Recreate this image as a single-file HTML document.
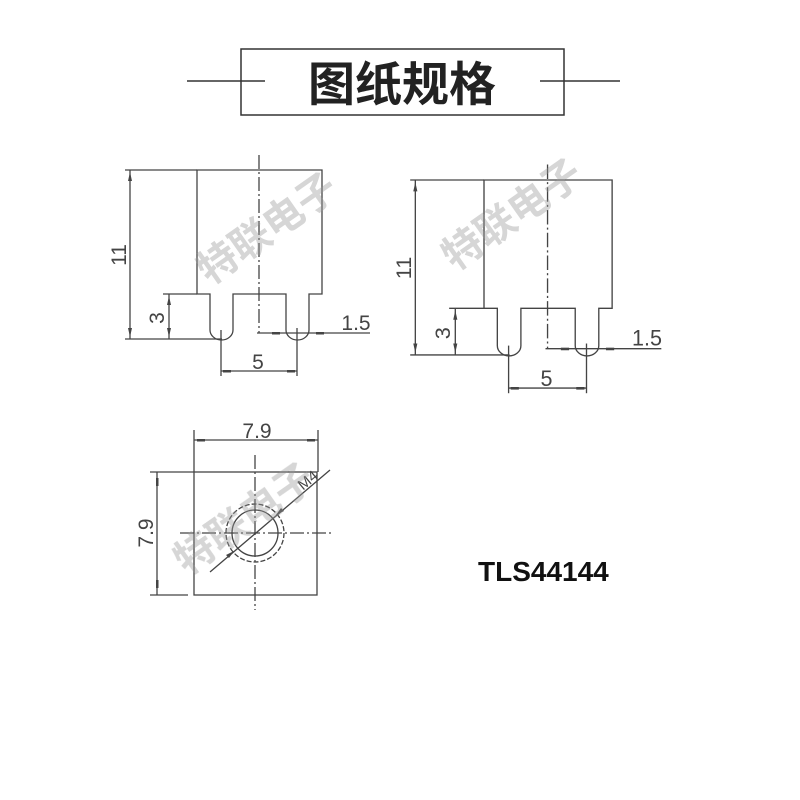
<!DOCTYPE html>
<html><head><meta charset="utf-8"><style>
html,body{margin:0;padding:0;background:#fff;}
svg{display:block;}
</style></head><body>
<svg width="800" height="800" viewBox="0 0 800 800" xmlns="http://www.w3.org/2000/svg">
<rect width="800" height="800" fill="#fff"/>
<!-- title -->
<line x1="187" y1="81" x2="265" y2="81" stroke="#333" stroke-width="1.5"/>
<line x1="540" y1="81" x2="620" y2="81" stroke="#333" stroke-width="1.5"/>
<rect x="241" y="49" width="323" height="66" fill="none" stroke="#333" stroke-width="1.5"/>
<text x="402" y="101" text-anchor="middle" font-family="'Liberation Sans','Noto Sans CJK SC',sans-serif" font-weight="bold" font-size="47" fill="#222">图纸规格</text>

<g id="d1" fill="none" stroke="#444" stroke-width="1.3">
  <path d="M197,170 H322 V294 H309 V330 A11.5,10 0 0 1 286,330 V294 H233 V330 A11.5,10 0 0 1 210,330 V294 H197 Z"/>
  <line x1="125" y1="170" x2="197" y2="170"/>
  <line x1="125" y1="339" x2="222" y2="339"/>
  <line x1="130" y1="170" x2="130" y2="339"/>
  <line x1="163" y1="294" x2="197" y2="294"/>
  <line x1="169" y1="294" x2="169" y2="339"/>
  <line x1="259" y1="155" x2="259" y2="333" stroke-dasharray="14,3,2,3"/>
  <line x1="257" y1="333" x2="370" y2="333"/>
  <line x1="221" y1="330" x2="221" y2="376"/>
  <line x1="297" y1="328" x2="297" y2="376"/>
  <line x1="221" y1="371" x2="297" y2="371"/>
  <g fill="#444" stroke="none">
    <path d="M130,172 l-2,9 h4z M130,337 l-2,-9 h4z M169,296 l-2,9 h4z M169,337 l-2,-9 h4z"/>
    <rect x="223" y="370" width="8" height="2.5"/><rect x="287" y="370" width="8" height="2.5"/>
    <rect x="272" y="332" width="8" height="2.5"/><rect x="316" y="332" width="8" height="2.5"/>
  </g>
  <g fill="#444" stroke="none" font-family="'Liberation Sans',sans-serif" font-size="21">
    <text x="258" y="369" text-anchor="middle">5</text>
    <text x="356" y="330" text-anchor="middle">1.5</text>
    <text transform="translate(164,318) rotate(-90)" text-anchor="middle">3</text>
    <text transform="translate(126,255) rotate(-90)" text-anchor="middle">11</text>
  </g>
</g>
<use href="#d1" transform="translate(484,180) scale(1.025,1.035) translate(-197,-170)"/>

<!-- top view -->
<g fill="none" stroke="#444" stroke-width="1.3">
  <rect x="194" y="472" width="123" height="123"/>
  <line x1="194" y1="430" x2="194" y2="472"/>
  <line x1="318" y1="430" x2="318" y2="472"/>
  <line x1="194" y1="440" x2="318" y2="440"/>
  <line x1="150" y1="472" x2="194" y2="472"/>
  <line x1="150" y1="595" x2="188" y2="595"/>
  <line x1="157" y1="472" x2="157" y2="595"/>
  <line x1="180" y1="533" x2="333" y2="533" stroke-dasharray="14,3,2,3"/>
  <line x1="255" y1="455" x2="255" y2="610" stroke-dasharray="14,3,2,3"/>
  <circle cx="255" cy="533" r="23"/>
  <circle cx="255" cy="533" r="29" stroke-dasharray="5,2"/>
  <line x1="210" y1="572" x2="330" y2="470"/>
  <g fill="#444" stroke="none">
    <rect x="197" y="439" width="8" height="2.5"/><rect x="307" y="439" width="8" height="2.5"/>
    <rect x="156" y="478" width="2.5" height="8"/><rect x="156" y="580" width="2.5" height="8"/>
    <path d="M234,551 l-8,4 l3,3z M276,515 l8,-4 l-3,-3z"/>
  </g>
  <g fill="#444" stroke="none" font-family="'Liberation Sans',sans-serif" font-size="21">
    <text x="257" y="438" text-anchor="middle">7.9</text>
    <text transform="translate(153,533) rotate(-90)" text-anchor="middle">7.9</text>
    <text transform="translate(311,484) rotate(-40)" text-anchor="middle" font-size="15">M4</text>
  </g>
</g>

<!-- watermarks -->
<g fill="#999" opacity="0.4" font-family="'Liberation Sans','Noto Sans CJK SC',sans-serif" font-weight="bold" font-size="40">
  <text transform="translate(275,240) rotate(-35)" text-anchor="middle">特联电子</text>
  <text transform="translate(520,226) rotate(-35)" text-anchor="middle">特联电子</text>
  <text transform="translate(252,530) rotate(-35)" text-anchor="middle">特联电子</text>
</g>

<text x="478" y="581" font-family="'Liberation Sans',sans-serif" font-weight="bold" font-size="28" fill="#111">TLS44144</text>
</svg>
</body></html>
